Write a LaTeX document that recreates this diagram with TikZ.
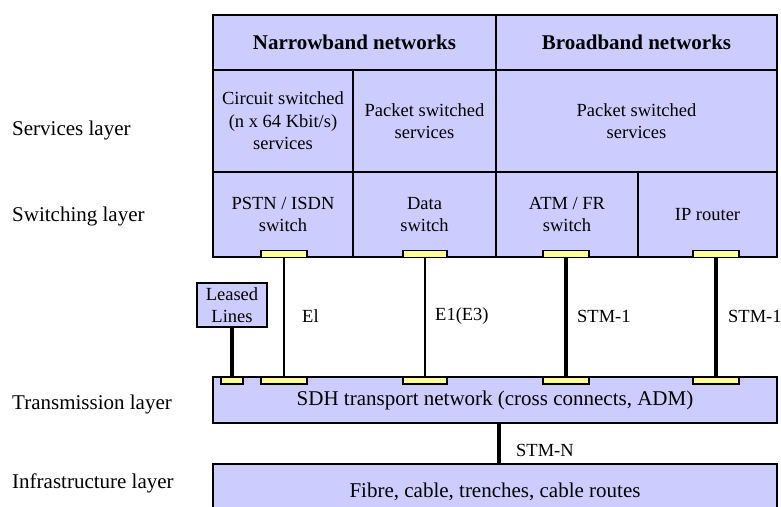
\documentclass[tikz,border=0pt]{standalone}
\usepackage{fontspec}
\setmainfont{Liberation Serif}
\usetikzlibrary{positioning}
\definecolor{cellfill}{HTML}{CCCCFF}
\definecolor{portfill}{HTML}{FFFF99}
\newcommand{\bigtxt}{\fontsize{21}{25}\selectfont}
\newcommand{\smalltxt}{\fontsize{18.5}{22.5}\selectfont}

\begin{document}
\begin{tikzpicture}[
    x=1pt, y=-1pt,
    cell/.style={draw, line width=2pt, fill=cellfill, outer sep=0pt, inner sep=0pt,
                 anchor=north west, align=center, font=\smalltxt},
    port/.style={draw, line width=1.5pt, fill=portfill, outer sep=0pt, inner sep=0pt,
                 minimum height=7pt},
    thinlink/.style={line width=2.5pt},
    thicklink/.style={line width=4pt},
    lbl/.style={anchor=west, font=\smalltxt, inner sep=0pt},
    layerlbl/.style={anchor=west, font=\bigtxt, inner sep=0pt},
]
\clip (0,0) rectangle (781,506);

% Network families
\node[cell, minimum width=283pt, minimum height=55pt, font=\bigtxt\bfseries] (nb) at (213,15) {Narrowband networks};
\node[cell, minimum width=281pt, minimum height=55pt, font=\bigtxt\bfseries] (bb) at (nb.north east) {Broadband networks};

% Services
\node[cell, minimum width=140pt, minimum height=102pt] (cs)  at (nb.south west) {Circuit switched\\(n x 64 Kbit/s)\\services};
\node[cell, minimum width=143pt, minimum height=102pt] (psn) at (cs.north east) {Packet switched\\services};
\node[cell, minimum width=281pt, minimum height=102pt] (psb) at (bb.south west) {Packet switched\\services};

% Switching
\node[cell, minimum width=140pt, minimum height=85pt] (pstn) at (cs.south west)  {PSTN / ISDN\\switch};
\node[cell, minimum width=143pt, minimum height=85pt] (data) at (pstn.north east) {Data\\switch};
\node[cell, minimum width=142pt, minimum height=85pt] (atm)  at (data.north east) {ATM / FR\\switch};
\node[cell, minimum width=139pt, minimum height=85pt] (ip)   at (atm.north east)  {IP router};

% Leased lines
\node[cell, minimum width=70pt, minimum height=44pt] (ll) at (197,283) {Leased\\Lines};

% Transmission and infrastructure
\node[cell, minimum width=564pt, minimum height=46pt, font=\bigtxt] (sdh) at (213,377) {SDH transport network (cross connects, ADM)};
\node[cell, minimum width=564pt, minimum height=56pt, font=\bigtxt] (infra) at (213,464) {Fibre, cable, trenches, cable routes};

% Ports on the switches
\node[port, minimum width=46pt] (pstnT) at (284,254) {};
\node[port, minimum width=44pt] (dataT) at (425,254) {};
\node[port, minimum width=46pt] (atmT)  at (566,254) {};
\node[port, minimum width=46pt] (ipT)   at (716,254) {};

% Ports on the SDH network
\node[port, minimum width=22pt] (llB)   at (232,380.5) {};
\node[port, minimum width=46pt] (pstnB) at (284,380.5) {};
\node[port, minimum width=44pt] (dataB) at (425,380.5) {};
\node[port, minimum width=46pt] (atmB)  at (566,380.5) {};
\node[port, minimum width=46pt] (ipB)   at (716,380.5) {};

% Links
\draw[thicklink] (ll.south) -- (llB.north);
\draw[thinlink]  (pstnT.south) -- (pstnB.north);
\draw[thinlink]  (dataT.south) -- (dataB.north);
\draw[thicklink] (atmT.south) -- (atmB.north);
\draw[thicklink] (ipT.south) -- (ipB.north);
\draw[thicklink] ([xshift=4pt]sdh.south) -- ([xshift=4pt]infra.north);

% Link labels
\node[lbl] (e1)   at (302,316) {El};
\node[lbl] (e1e3) at (435,316) {E1(E3)};
\node[lbl] (stm1a) at (577,316) {STM-1};
\node[lbl] (stm1b) at (728,316) {STM-1};
\node[lbl] (stmn) at (516,450) {STM-N};

% Layers
\node[layerlbl] (lserv)  at (12,130) {Services layer};
\node[layerlbl] (lswit)  at (12,216) {Switching layer};
\node[layerlbl] (ltrans) at (12,404) {Transmission layer};
\node[layerlbl] (linfra) at (12,483) {Infrastructure layer};
\end{tikzpicture}
\end{document}
